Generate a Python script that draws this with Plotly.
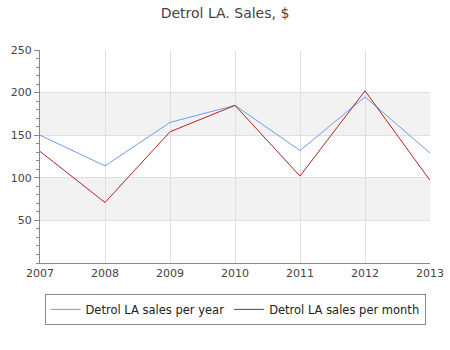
import plotly.graph_objects as go

years = [2007, 2008, 2009, 2010, 2011, 2012, 2013]
per_year = [150, 114, 165, 185, 132, 195, 129]
per_month = [131, 71, 154, 185, 102, 202, 97]
y_ticks = [50, 100, 150, 200, 250]
bands = [(50, 100), (150, 200)]

fig = go.Figure()
fig.add_trace(go.Scatter(x=years, y=per_year, mode="lines", name="Detrol LA sales per year",
                         line=dict(color="#6d9eeb", width=1)))
fig.add_trace(go.Scatter(x=years, y=per_month, mode="lines", name="Detrol LA sales per month",
                         line=dict(color="#b22222", width=1)))

for lo, hi in bands:
    fig.add_shape(type="rect", xref="paper", x0=0, x1=1, yref="y", y0=lo, y1=hi,
                  fillcolor="#f2f2f2", line_width=0, layer="below")

fig.update_layout(
    width=450, height=350,
    margin=dict(l=40, r=20, t=50, b=87),
    paper_bgcolor="white", plot_bgcolor="white",
    font=dict(family="DejaVu Sans", size=11, color="#444"),
    title=dict(text="Detrol LA. Sales, $", x=0.5, xanchor="center", y=0.962, yanchor="middle",
               font=dict(size=14, color="#444")),
    showlegend=True,
    legend=dict(orientation="h", x=0.5, xanchor="center", y=-0.145, yanchor="top",
                bordercolor="#888", borderwidth=1, font=dict(size=11.5, color="#222"),
                itemwidth=30),
    xaxis=dict(range=[2007, 2013], tickvals=years, showgrid=True, gridcolor="#e0e0e0",
               showline=True, linecolor="#888", ticks="", zeroline=False, automargin=False,
               layer="below traces"),
    yaxis=dict(range=[0, 250], tickvals=y_ticks, showgrid=True, gridcolor="#e0e0e0",
               showline=True, linecolor="#888", ticks="outside", ticklen=5, tickcolor="#888",
               zeroline=False, automargin=False,
               minor=dict(dtick=10, ticks="outside", ticklen=3, tickcolor="#888", showgrid=False)),
)

fig.write_html("out.html")
